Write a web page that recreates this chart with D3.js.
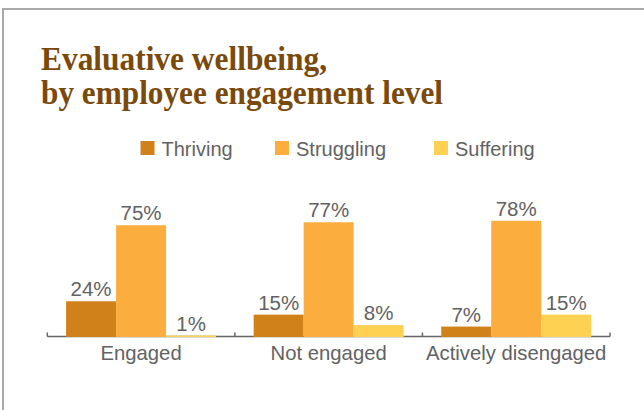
<!DOCTYPE html>
<html><head><meta charset="utf-8">
<script src="https://cdn.jsdelivr.net/npm/d3@7/dist/d3.min.js"></script>
<style>html,body{margin:0;padding:0;background:#fff;}svg{display:block;}</style>
</head><body>
<script>
const categories = ["Engaged", "Not engaged", "Actively disengaged"];
const series = ["Thriving", "Struggling", "Suffering"];
const thriving = [24, 15, 7];
const struggling = [75, 77, 78];
const suffering = [1, 8, 15];
const colors = ["#D1811A", "#FBAD3E", "#FFD153"];
const titleLines = ["Evaluative wellbeing,", "by employee engagement level"];

const values = [thriving, struggling, suffering];
const W = 644, H = 410;
const svg = d3.select("body").append("svg").attr("width", W).attr("height", H);

// frame
svg.append("path").attr("d", `M3,${H} V9 H${W}`).attr("fill", "none")
  .attr("stroke", "#a9a9a9").attr("stroke-width", 2);

// title
const titleWidths = [286, 402];
titleLines.forEach((t, i) => {
  svg.append("text").attr("x", 41).attr("y", 69.5 + i * 34.5)
    .attr("font-family", "'Liberation Serif','DejaVu Serif',serif")
    .attr("font-weight", "bold").attr("font-size", 33)
    .attr("fill", "#7A4A0C")
    .attr("textLength", titleWidths[i]).attr("lengthAdjust", "spacingAndGlyphs")
    .text(t);
});

// legend
const legendX = [140.5, 275, 434];
series.forEach((s, i) => {
  const g = svg.append("g").attr("transform", `translate(${legendX[i]},0)`);
  g.append("rect").attr("x", 0).attr("y", 141).attr("width", 14).attr("height", 14).attr("fill", colors[i]);
  g.append("text").attr("x", 21).attr("y", 156)
    .attr("font-family", "'Liberation Sans',Arial,sans-serif").attr("font-size", 20)
    .attr("fill", "#626262").text(s);
});

const x0 = d3.scaleBand().domain(categories).range([47.3, 610]).padding(0);
const x1 = d3.scaleBand().domain(series).range([0, x0.bandwidth()]).paddingInner(0).paddingOuter(0.376);
const y = d3.scaleLinear().domain([0, 100]).range([337, 188]);

// axis (drawn beneath bars)
const axisY = 336.5;
const axisG = svg.append("g").attr("transform", `translate(0,${axisY})`);
const ticks = categories.map(c => x0(c)).concat([x0.range()[1]]);
axisG.append("line").attr("x1", x0.range()[0]).attr("x2", x0.range()[1])
  .attr("stroke", "#666").attr("stroke-width", 1.5);
axisG.selectAll("line.tick").data(ticks).join("line").attr("class", "tick")
  .attr("x1", d => d).attr("x2", d => d).attr("y1", 0).attr("y2", -4)
  .attr("stroke", "#666").attr("stroke-width", 1.5);
axisG.selectAll("text").data(categories).join("text")
  .attr("x", d => x0(d) + x0.bandwidth() / 2).attr("y", 23.5)
  .attr("text-anchor", "middle")
  .attr("font-family", "'Liberation Sans',Arial,sans-serif").attr("font-size", 20.3)
  .attr("fill", "#626262").text(d => d);

const groups = svg.append("g").selectAll("g").data(categories).join("g")
  .attr("transform", d => `translate(${x0(d)},0)`);

groups.each(function(cat, ci) {
  const g = d3.select(this);
  series.forEach((s, si) => {
    const v = values[si][ci];
    g.append("rect").attr("x", x1(s)).attr("width", x1.bandwidth())
      .attr("y", y(v)).attr("height", y(0) - y(v)).attr("fill", colors[si]);
    g.append("text").attr("x", x1(s) + x1.bandwidth() / 2).attr("y", y(v) - 5)
      .attr("text-anchor", "middle")
      .attr("font-family", "'Liberation Sans',Arial,sans-serif").attr("font-size", 20.5)
      .attr("fill", "#626262").text(v + "%");
  });
});
</script>
</body></html>
